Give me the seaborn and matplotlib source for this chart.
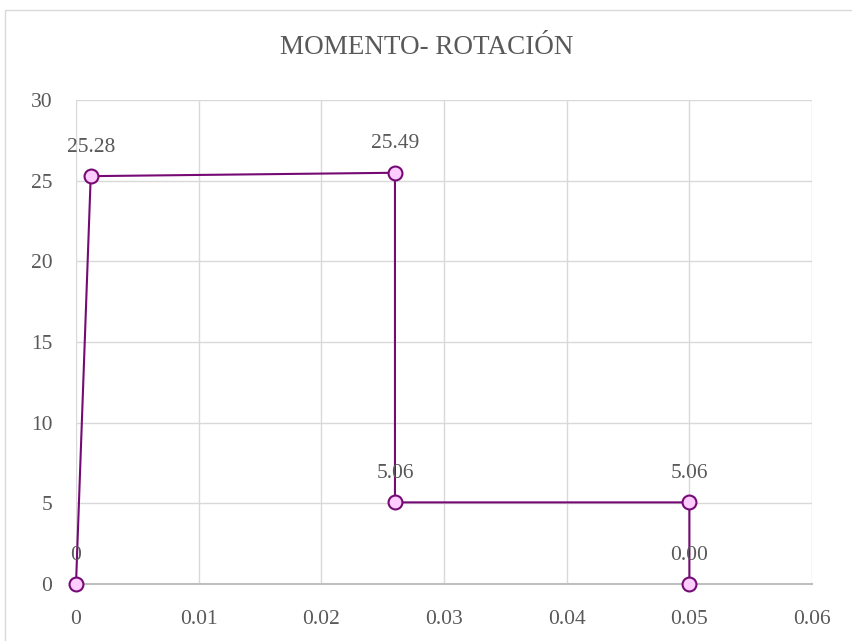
import matplotlib
matplotlib.use('Agg')
from matplotlib import pyplot as plt
from matplotlib.patches import Rectangle
import seaborn as sns
import pandas as pd

# data
rotation = [0.0, 0.0012, 0.026, 0.026, 0.050, 0.050]
moment = [0.0, 25.28, 25.49, 5.06, 5.06, 0.0]
point_labels = ["0", "25.28", "25.49", "5.06", "5.06", "0.00"]

sns.set_style("white")
plt.rcParams['font.family'] = ['Liberation Serif', 'DejaVu Serif']

text_col = "#595959"
line_col = "#760A74"
face_col = "#FFCCFF"

df = pd.DataFrame({"rot": rotation, "mom": moment})

fig = plt.figure(figsize=(8.53, 6.41), dpi=100)
ax = fig.add_axes([0.0891, 0.0889, 0.8629, 0.7551])

# outer chart border
fig.patches.append(Rectangle((5 / 853, -0.01), 1.0, 1 - 10 / 641 + 0.01,
                             transform=fig.transFigure, fill=False,
                             edgecolor="#D9D9D9", linewidth=1.0))

sns.lineplot(data=df, x="rot", y="mom", sort=False, estimator=None,
             color=line_col, linewidth=1.5, marker="o", markersize=10,
             markerfacecolor=face_col, markeredgecolor=line_col,
             markeredgewidth=1.5, ax=ax, zorder=3, clip_on=False)

for x, y, lab in zip(rotation, moment, point_labels):
    ax.annotate(lab, (x, y), xytext=(0, 14), textcoords="offset points",
                ha="center", va="bottom", fontsize=15.5, color=text_col)

ax.set_xlim(0, 0.06)
ax.set_ylim(0, 30)
ax.set_xticks([0, 0.01, 0.02, 0.03, 0.04, 0.05, 0.06])
ax.set_xticklabels(["0", "0.01", "0.02", "0.03", "0.04", "0.05", "0.06"])
ax.set_yticks([0, 5, 10, 15, 20, 25, 30])
ax.tick_params(axis="both", labelsize=15.5, labelcolor=text_col, length=0)
ax.tick_params(axis="x", pad=19)
ax.tick_params(axis="y", pad=17)
ax.grid(True, color="#D9D9D9", linewidth=1.0)
ax.set_axisbelow(True)
for side in ["top", "right", "left"]:
    ax.spines[side].set_visible(False)
ax.spines["bottom"].set_color("#BFBFBF")
ax.spines["bottom"].set_linewidth(1.5)
ax.set_xlabel("")
ax.set_ylabel("")

fig.text(0.5, 1 - 47 / 641, "MOMENTO- ROTACIÓN", ha="center", va="center",
         fontsize=19.5, color=text_col)

plt.savefig("out.png", dpi=100)
plt.close()
